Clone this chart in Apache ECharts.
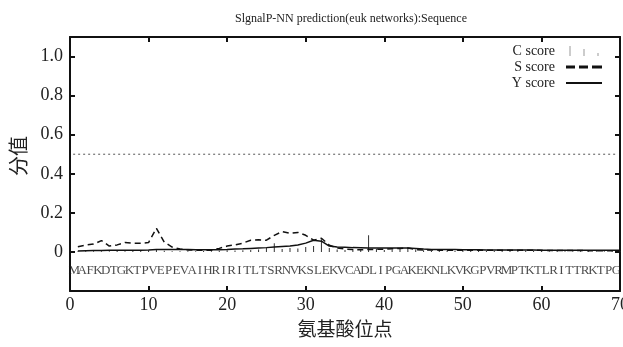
<!DOCTYPE html>
<html>
<head>
<meta charset="utf-8">
<style>html,body{margin:0;padding:0;background:#fff;}#c{width:623px;height:347px;}</style>
<script src="https://cdn.jsdelivr.net/npm/echarts@6/dist/echarts.min.js"></script>
</head>
<body>
<div id="c"></div>
<script>
const titleText = 'SlgnalP-NN prediction(euk networks):Sequence';
const residues = 'MAFKDTGKTPVEPEVAIHRIRITLTSRNVKSLEKVCADLIPGAKEKNLKVKGPVRMPTKTLRITTRKTPG'.split('');
const xTicks = [0, 10, 20, 30, 40, 50, 60, 70];
const yTicks = [0, 0.2, 0.4, 0.6, 0.8, 1.0];
const cScore = [0.002,0.003,0.004,0.003,0.004,0.005,0.004,0.005,0.006,0.008,0.012,0.006,0.004,0.004,0.003,0.004,0.005,0.004,0.006,0.008,0.007,0.009,0.010,0.012,0.020,0.045,0.015,0.020,0.018,0.025,0.030,0.065,0.020,0.012,0.010,0.012,0.015,0.085,0.015,0.010,0.012,0.015,0.020,0.012,0.008,0.006,0.007,0.006,0.005,0.006,0.005,0.006,0.005,0.005,0.006,0.005,0.005,0.006,0.005,0.005,0.004,0.005,0.004,0.004,0.005,0.004,0.004,0.003,0.004,0.003];
const sScore = [0.027,0.035,0.040,0.058,0.030,0.036,0.048,0.044,0.044,0.048,0.121,0.050,0.025,0.015,0.010,0.009,0.008,0.009,0.018,0.030,0.036,0.045,0.060,0.062,0.060,0.085,0.104,0.095,0.100,0.085,0.060,0.070,0.035,0.020,0.015,0.012,0.011,0.012,0.013,0.014,0.016,0.018,0.020,0.012,0.010,0.010,0.009,0.009,0.009,0.009,0.009,0.008,0.008,0.008,0.008,0.008,0.008,0.008,0.008,0.008,0.007,0.007,0.007,0.007,0.007,0.006,0.006,0.006,0.006,0.006];
const yScore = [0.005,0.006,0.007,0.007,0.008,0.008,0.008,0.009,0.009,0.010,0.012,0.012,0.012,0.012,0.012,0.011,0.011,0.011,0.011,0.012,0.015,0.016,0.018,0.020,0.022,0.025,0.028,0.030,0.035,0.045,0.060,0.055,0.030,0.025,0.024,0.022,0.021,0.020,0.020,0.020,0.020,0.020,0.020,0.018,0.015,0.013,0.012,0.012,0.012,0.011,0.011,0.011,0.010,0.010,0.010,0.010,0.010,0.010,0.010,0.009,0.009,0.009,0.009,0.009,0.008,0.008,0.008,0.008,0.008,0.008];
const threshold = 0.5;
const thresholdRange = [0.4, 69.6];
const letterY = -0.095;

const serif = 'Liberation Serif, DejaVu Serif, serif';
const cjk = 'Noto Sans CJK SC, sans-serif';
const pos = residues.map((r, i) => i + 1);

const chart = echarts.init(document.getElementById('c'));
const axisLine = {show: true, onZero: false, lineStyle: {color: '#111', width: 2}};
const tick = {show: true, inside: true, length: 5, lineStyle: {color: '#111', width: 2}};
chart.setOption({
  animation: false,
  title: {text: titleText, left: 346, top: 8, textAlign: 'center',
    textStyle: {fontFamily: serif, fontSize: 12, fontWeight: 'normal', color: '#222'}},
  legend: {
    orient: 'vertical', right: 16, top: 39, align: 'right', itemGap: 2,
    itemWidth: 36, itemHeight: 10,
    textStyle: {fontFamily: serif, fontSize: 14, color: '#222', padding: [0, 6, 0, 0]},
    data: [
      {name: 'C score', icon: 'path://M0,0h1v10h-1z M14,3h1v7h-1z M28,7h1v3h-1z', itemStyle: {color: '#999'}},
      {name: 'S score', icon: 'path://M0,4h9v3h-9z M13,4h9v3h-9z M26,4h10v3h-10z', itemStyle: {color: '#111'}},
      {name: 'Y score', icon: 'path://M0,4h36v2h-36z', itemStyle: {color: '#111'}}
    ]
  },
  grid: {left: 70, right: 3, top: 37, bottom: 56, containLabel: false, outerBoundsMode: 'none'},
  xAxis: [{
    type: 'value', min: 0, max: 70, interval: 10,
    name: '氨基酸位点', nameLocation: 'middle', nameGap: 26,
    nameTextStyle: {fontFamily: cjk, fontSize: 19, color: '#222'},
    axisLine: axisLine, axisTick: tick, splitLine: {show: false},
    axisLabel: {fontFamily: serif, fontSize: 18, color: '#222', margin: 5,
      formatter: v => xTicks.indexOf(v) >= 0 ? String(v) : ''}
  }, {
    type: 'value', min: 0, max: 70, interval: 10, position: 'top',
    axisLine: axisLine, axisTick: tick, axisLabel: {show: false}, splitLine: {show: false}
  }],
  yAxis: [{
    type: 'value', min: -0.2, max: 1.1, interval: 0.2,
    name: '分值', nameLocation: 'middle', nameGap: 42, nameRotate: 90,
    nameTextStyle: {fontFamily: cjk, fontSize: 20, color: '#222', padding: [0, 0, 0, 16]},
    axisLine: axisLine, axisTick: tick, splitLine: {show: false},
    axisLabel: {fontFamily: serif, fontSize: 18, color: '#222', margin: 7,
      formatter: v => {
        const hit = yTicks.find(t => Math.abs(t - v) < 1e-6);
        if (hit === undefined) return '';
        return hit === 0 ? '0' : hit.toFixed(1);
      }}
  }, {
    type: 'value', min: -0.2, max: 1.1, interval: 0.2, position: 'right',
    axisLine: axisLine, axisTick: tick, axisLabel: {show: false}, splitLine: {show: false}
  }],
  series: [
    {name: 'threshold', type: 'line', symbol: 'none', silent: true,
      data: thresholdRange.map(x => [x, threshold]),
      lineStyle: {color: '#555', width: 1, type: [2, 3]}},
    {name: 'C score', type: 'bar', barWidth: 1, itemStyle: {color: '#333'},
      data: pos.map((x, i) => [x, cScore[i]])},
    {name: 'S score', type: 'line', symbol: 'none',
      data: pos.map((x, i) => [x, sScore[i]]),
      lineStyle: {color: '#111', width: 1.5, type: [6, 4]}},
    {name: 'Y score', type: 'line', symbol: 'none',
      data: pos.map((x, i) => [x, yScore[i]]),
      lineStyle: {color: '#111', width: 1.5}},
    {name: 'residues', type: 'scatter', symbolSize: 0, silent: true,
      data: residues.map((r, i) => [i + 1 - 0.45, letterY, r]),
      label: {show: true, position: 'inside', formatter: p => p.data[2],
        fontFamily: serif, fontSize: 13, color: '#1a1a1a'}}
  ]
});
</script>
</body>
</html>
